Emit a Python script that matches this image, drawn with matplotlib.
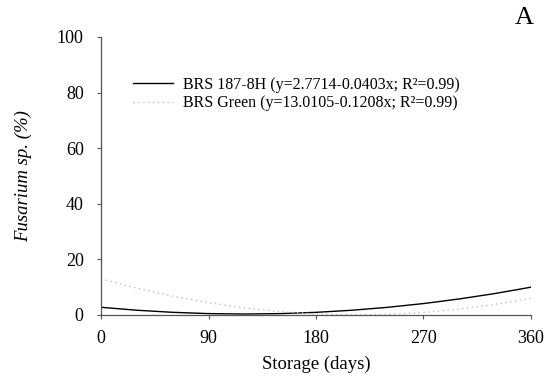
import matplotlib.pyplot as plt

plt.rcParams['font.family'] = 'Liberation Serif'

# storage time (days) and fitted incidence of Fusarium sp. (%)
days = [0, 30, 60, 90, 120, 150, 180, 210, 240, 270, 300, 330, 360]
brs_187 = [2.77, 1.71, 0.96, 0.50, 0.35, 0.50, 0.95, 1.70, 2.76, 4.11, 5.77, 7.73, 10.0]
brs_green = [13.01, 9.64, 6.78, 4.42, 2.57, 1.22, 0.39, 0.06, 0.23, 0.91, 2.11, 3.80, 6.00]

x_ticks = [0, 90, 180, 270, 360]
y_ticks = [0, 20, 40, 60, 80, 100]

fig = plt.figure(figsize=(5.44, 3.79), dpi=100)
ax = fig.add_axes([0.1857, 0.1689, 0.7903, 0.7335])

ax.plot(days, brs_187, color='black', lw=1.0,
        label='BRS 187-8H (y=2.7714-0.0403x; R²=0.99)')
ax.plot(days, brs_green, color='#c0c0c0', lw=1.0, ls=(0, (1, 2.5)),
        label='BRS Green (y=13.0105-0.1208x; R²=0.99)')

ax.set_xlim(0, 360)
ax.set_ylim(0, 100)
ax.set_xticks(x_ticks)
ax.set_yticks(y_ticks)
ax.tick_params(labelsize=13, length=3, width=0.8, color='#555555', direction='out')
ax.tick_params(axis='y', pad=9.5)
ax.tick_params(axis='x', pad=8)
for s in ['top', 'right']:
    ax.spines[s].set_visible(False)
for s in ['left', 'bottom']:
    ax.spines[s].set_color('#555555')
    ax.spines[s].set_linewidth(0.9)

ax.set_xlabel('Storage (days)', fontsize=13.5, labelpad=6)
ax.set_ylabel('Fusarium sp. (%)', fontsize=13.5, style='italic', labelpad=18)

ax.legend(loc='upper left', bbox_to_anchor=(0.0744, 0.856), frameon=False,
          borderpad=0, borderaxespad=0,
          fontsize=11.5, handlelength=2.5, handletextpad=0.63, labelspacing=0.15)

fig.text(0.982, 0.952, 'A', fontsize=19, ha='right', va='center')

plt.savefig('out.png', dpi=100)
